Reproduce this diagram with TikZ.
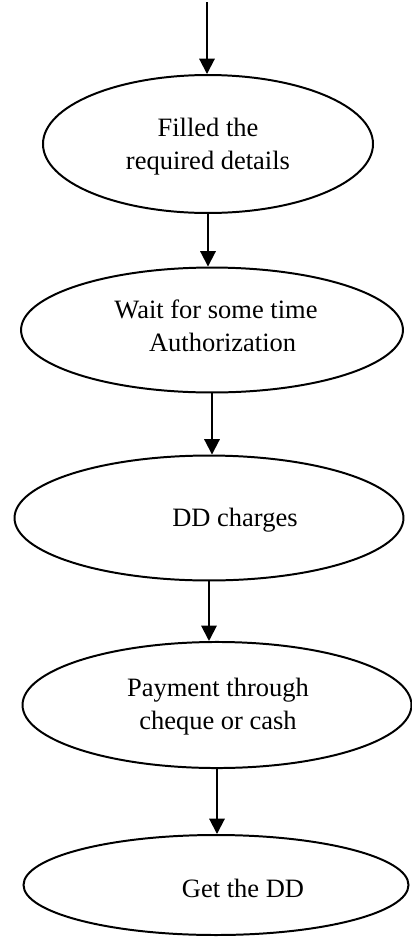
\documentclass[tikz,border=0pt]{standalone}
\usepackage{fontspec}
\setmainfont{Liberation Serif}
\usetikzlibrary{shapes.geometric,arrows.meta,positioning}

\begin{document}
\begin{tikzpicture}[x=0.453pt,y=-0.453pt,
  stage/.style={ellipse,draw,line width=0.9pt,inner sep=0pt},
  stagetext/.style={font=\fontsize{12}{15}\selectfont,align=center},
  flow/.style={-{Triangle[width=7pt,length=7pt]},line width=0.9pt}]
\useasboundingbox (0,0) rectangle (411,937);

%stages
\node[stage,minimum width=149.5pt,minimum height=62.5pt,
  label={[stagetext,shift={(0,3)}]center:{Filled the\\required details}}] (fill) at (208,144) {};
\node[stage,minimum width=173pt,minimum height=56.6pt,
  label={[stagetext,shift={(4,-4)}]center:{Wait for some time\\\ \ Authorization}}] (wait) at (212,330) {};
\node[stage,minimum width=176.2pt,minimum height=56.6pt,
  label={[stagetext,shift={(26,2)}]center:DD charges}] (charges) at (209,518) {};
\node[stage,minimum width=176.2pt,minimum height=57.1pt,
  label={[stagetext,shift={(1,2)}]center:{Payment through\\cheque or cash}}] (pay) at (217,705) {};
\node[stage,minimum width=174.4pt,minimum height=45.3pt,
  label={[stagetext,shift={(27,3)}]center:Get the DD}] (get) at (216,885) {};

%arrows
\coordinate (start) at (207,2);
\draw[flow] (start) -- (start |- fill.north);
\draw[flow] (fill.south) -- (fill.south |- wait.north);
\draw[flow] (wait.south) -- (wait.south |- charges.north);
\draw[flow] (charges.south) -- (charges.south |- pay.north);
\draw[flow] (pay.south) -- (pay.south |- get.north);
\end{tikzpicture}
\end{document}
